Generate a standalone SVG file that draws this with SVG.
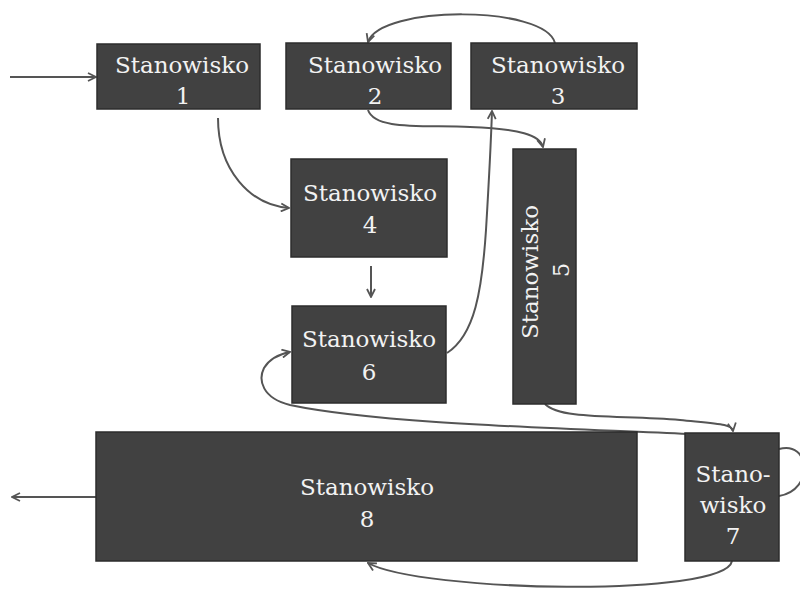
<svg xmlns="http://www.w3.org/2000/svg" width="800" height="590" viewBox="0 0 800 590">
<defs>
<style>
.box{fill:#414141;stroke:#2c2c2c;stroke-width:1.5}
.lbl{font-family:"DejaVu Serif","Liberation Serif",serif;font-size:23px;fill:#f2f2f2;text-anchor:middle}
.c{fill:none;stroke:#555;stroke-width:2}
</style>
<marker id="ah" viewBox="0 0 10 10" refX="9" refY="5" markerWidth="10" markerHeight="10" markerUnits="userSpaceOnUse" orient="auto">
<path d="M1,1 L9,5 L1,9" fill="none" stroke="#555" stroke-width="1.8"/>
</marker>
</defs>
<rect width="800" height="590" fill="#fff"/>
<g id="connectors">
<path class="c" d="M10,77 L96,77" marker-end="url(#ah)"/>
<path class="c" d="M218,118 C218,170 250,205 289,208" marker-end="url(#ah)"/>
<path class="c" d="M371,266 L371,297" marker-end="url(#ah)"/>
<path class="c" d="M447,353 C475,335 482,290 486,230 C489,180 491,140 492,111" marker-end="url(#ah)"/>
<path class="c" d="M555,43 C545,5 380,5 368,42" marker-end="url(#ah)"/>
<path class="c" d="M368,110 C375,130 420,125 470,127 C520,129 540,135 543,147" marker-end="url(#ah)"/>
<path class="c" d="M545,404 C560,420 620,415 680,420 C720,424 732,424 733,431" marker-end="url(#ah)"/>
<path class="c" d="M688,434 C560,428 380,424 290,405 C262,398 258,380 264,368 C270,358 280,354 290,352" marker-end="url(#ah)"/>
<path class="c" d="M779,449 C810,440 815,490 779,496"/>
<path class="c" d="M732,561 C725,598 420,592 368,563" marker-end="url(#ah)"/>
<path class="c" d="M96,497 L12,497" marker-end="url(#ah)"/>
</g>
<g id="node1"><rect class="box" x="97" y="44" width="163" height="65"/><text class="lbl" x="182" y="73">Stanowisko</text><text class="lbl" x="183" y="104">1</text></g>
<g id="node2"><rect class="box" x="286" y="43" width="165" height="66"/><text class="lbl" x="375" y="73">Stanowisko</text><text class="lbl" x="375" y="104">2</text></g>
<g id="node3"><rect class="box" x="471" y="43" width="166" height="66"/><text class="lbl" x="558" y="73">Stanowisko</text><text class="lbl" x="558" y="104">3</text></g>
<g id="node4"><rect class="box" x="291" y="159" width="156" height="98"/><text class="lbl" x="370" y="201">Stanowisko</text><text class="lbl" x="370" y="233">4</text></g>
<g id="node5"><rect class="box" x="513" y="149" width="63" height="255"/><text class="lbl" transform="translate(538,272) rotate(-90)">Stanowisko</text><text class="lbl" transform="translate(569,270) rotate(-90)">5</text></g>
<g id="node6"><rect class="box" x="292" y="306" width="154" height="97"/><text class="lbl" x="369" y="347">Stanowisko</text><text class="lbl" x="369" y="380">6</text></g>
<g id="node7"><rect class="box" x="685" y="433" width="94" height="128"/><text class="lbl" x="733" y="482">Stano-</text><text class="lbl" x="733" y="513">wisko</text><text class="lbl" x="733" y="544">7</text></g>
<g id="node8"><rect class="box" x="96" y="432" width="541" height="129"/><text class="lbl" x="367" y="495">Stanowisko</text><text class="lbl" x="367" y="527">8</text></g>
</svg>
